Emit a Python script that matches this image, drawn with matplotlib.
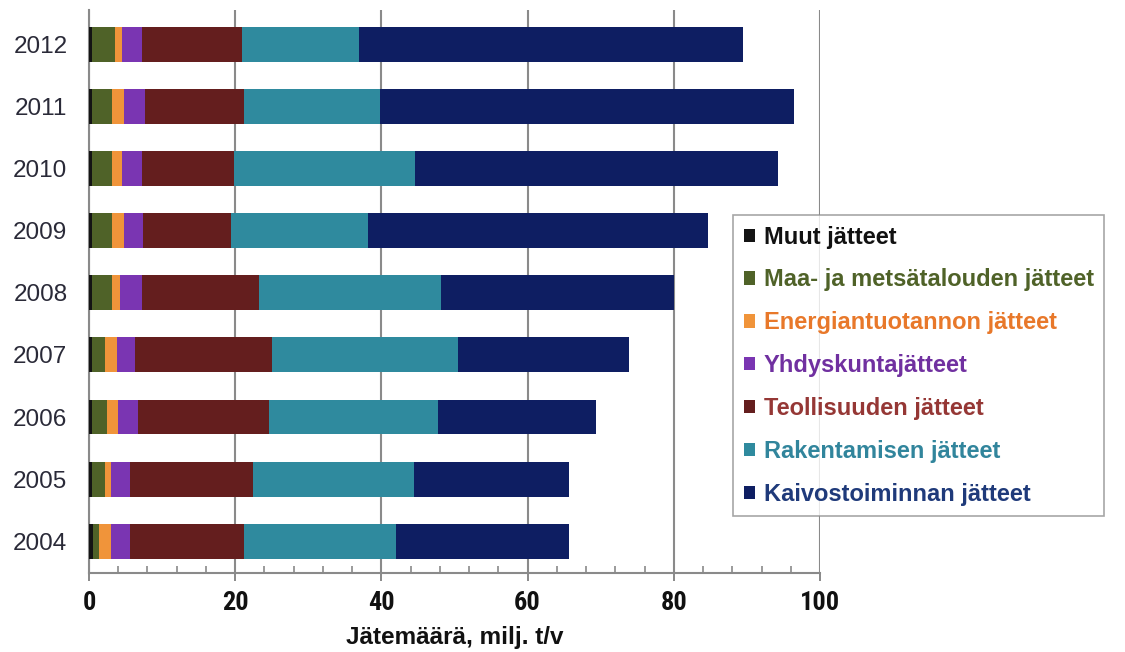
import matplotlib
matplotlib.use("Agg")
import matplotlib.pyplot as plt
from matplotlib.patches import Patch
from matplotlib.ticker import MultipleLocator
from matplotlib import font_manager
import numpy as np

years = ["2004", "2005", "2006", "2007", "2008", "2009", "2010", "2011", "2012"]

categories = [
    "Muut jätteet",
    "Maa- ja metsätalouden jätteet",
    "Energiantuotannon jätteet",
    "Yhdyskuntajätteet",
    "Teollisuuden jätteet",
    "Rakentamisen jätteet",
    "Kaivostoiminnan jätteet",
]

# milj. t/v, one value per year (2004 ... 2012)
muut = [0.6, 0.35, 0.35, 0.35, 0.35, 0.35, 0.35, 0.35, 0.35]
maa_metsa = [0.77, 1.85, 2.05, 1.85, 2.85, 2.85, 2.85, 2.85, 3.15]
energia = [1.63, 0.8, 1.6, 1.6, 1.0, 1.6, 1.35, 1.6, 1.05]
yhdyskunta = [2.6, 2.6, 2.65, 2.5, 3.0, 2.6, 2.65, 2.85, 2.65]
teollisuus = [15.6, 16.8, 17.95, 18.7, 16.1, 12.0, 12.7, 13.55, 13.7]
rakentaminen = [20.8, 22.0, 23.1, 25.5, 24.9, 18.8, 24.7, 18.6, 16.0]
kaivos = [23.6, 21.2, 21.6, 23.4, 31.8, 46.5, 49.6, 56.7, 52.6]

series = [muut, maa_metsa, energia, yhdyskunta, teollisuus, rakentaminen, kaivos]

bar_colors = ["#141414", "#4F6228", "#F0943A", "#7A35B2", "#641E1E", "#2F8A9E", "#0E1E62"]
text_colors = ["#111111", "#4F6228", "#E8782A", "#7030A0", "#953735", "#31859C", "#1F3A7A"]

# Prefer a condensed face for the numeric axis if one is installed
available = {f.name for f in font_manager.fontManager.ttflist}
narrow = [f for f in ["Liberation Sans Narrow", "Roboto Condensed", "DejaVu Sans Condensed"]
          if f in available]
tick_family = (narrow[:1] or []) + ["Liberation Sans"]
tick_size = 19 if narrow else 17

fig = plt.figure(figsize=(11.25, 6.52), dpi=100)
ax = fig.add_axes([0.0791, 0.1212, 0.6498, 0.8635])

y = np.arange(len(years))
left = np.zeros(len(years))
for vals, col in zip(series, bar_colors):
    ax.barh(y, vals, left=left, height=0.56, color=col, edgecolor="none", zorder=3)
    left += np.array(vals)

ax.set_xlim(0, 100)
ax.set_ylim(-0.51, 8.55)
ax.set_yticks(y)
ax.set_yticklabels(years, fontsize=17.5, color="#2A2A38", family="Liberation Sans")
ax.tick_params(axis="y", length=0, pad=15.5)

ax.xaxis.set_major_locator(MultipleLocator(20))
ax.xaxis.set_minor_locator(MultipleLocator(4))
ax.tick_params(axis="x", which="major", direction="out", length=6, width=1.3,
               color="#808080", pad=7)
ax.tick_params(axis="x", which="minor", direction="in", length=5, width=1.1,
               color="#808080")
for lbl in ax.get_xticklabels():
    lbl.set_fontsize(tick_size)
    lbl.set_fontweight("bold")
    lbl.set_family(tick_family)
    lbl.set_color("#111111")

ax.grid(axis="x", which="major", color="#8A8A8A", linewidth=1.5, zorder=1)
ax.set_axisbelow(True)
for side in ["top", "right"]:
    ax.spines[side].set_visible(False)
for side in ["left", "bottom"]:
    ax.spines[side].set_color("#8A8A8A")
    ax.spines[side].set_linewidth(1.5)

ax.set_xlabel("Jätemäärä, milj. t/v", fontsize=17.5, fontweight="bold",
              family="Liberation Sans", color="#111111", labelpad=8)

handles = [Patch(facecolor=c, edgecolor="none") for c in bar_colors]
leg = fig.legend(handles, categories, loc="upper left",
                 bbox_to_anchor=(733 / 1125, 1 - 215 / 652),
                 frameon=True, fancybox=False, edgecolor="#909090",
                 prop={"family": "Liberation Sans", "weight": "bold", "size": 17},
                 handlelength=0.5, handleheight=0.5, handletextpad=0.35,
                 labelspacing=0.84, borderpad=0.45, borderaxespad=0)
leg.get_frame().set_linewidth(1.2)
for txt, c in zip(leg.get_texts(), text_colors):
    txt.set_color(c)

fig.savefig("out.png", dpi=100)
